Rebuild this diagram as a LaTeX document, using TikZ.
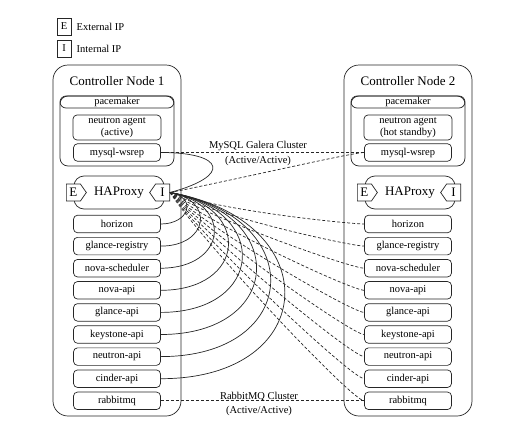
\documentclass[tikz,border=0pt]{standalone}
\usepackage{fontspec}
\setmainfont{Liberation Serif}
\usetikzlibrary{shapes.symbols}
\newcommand{\smallfnt}{\fontsize{10.5}{11.5}\selectfont}
\newcommand{\bigfnt}{\fontsize{13}{15}\selectfont}
\tikzset{
  ctrlbox/.style={draw, rounded corners=15, minimum width=128, minimum height=351},
  pacebox/.style={draw, rounded corners=8, minimum width=114, minimum height=70},
  pacehead/.style={draw, rounded corners=6, minimum width=114, minimum height=12, inner sep=0, font=\smallfnt},
  agentbox/.style={draw, rounded corners=4, minimum width=88, minimum height=25, inner sep=0, align=center, font=\smallfnt},
  svcbox/.style={draw, rounded corners=4, minimum width=87, minimum height=17.5, inner sep=0, font=\smallfnt},
  haproxy/.style={draw, rounded corners=10, minimum width=90, minimum height=33, font=\bigfnt},
  iptag/.style={draw, fill=white, signal, signal pointer angle=110, minimum width=20, minimum height=17, inner xsep=2.5, inner ysep=0, font=\bigfnt},
  legbox/.style={draw, minimum width=14, minimum height=17, inner sep=0, font=\smallfnt},
  cluster/.style={dash pattern=on 3pt off 2pt},
}
\begin{document}
\begin{tikzpicture}[x=1pt, y=1pt, line width=0.7pt, draw=black!85]
  \useasboundingbox (0,0) rectangle (515,-426);
  % legend
  \node[legbox] (legE) at (64,-26.5) {E};
  \node[anchor=west, font=\smallfnt] (legEtxt) at (73,-26.5) {External IP};
  \node[legbox] (legI) at (64,-48.5) {I};
  \node[anchor=west, font=\smallfnt] (legItxt) at (73,-48.5) {Internal IP};
  % controller nodes
  \foreach \n/\x/\state in {1/117/active, 2/408/{hot standby}} {
    \node[ctrlbox] (ctrl\n) at (\x,-240.5) {};
    \node[font=\bigfnt] (title\n) at (\x,-81) {Controller Node \n};
    \node[pacebox] (pace\n) at (\x,-131) {};
    \node[pacehead] (pacehead\n) at (\x,-102) {pacemaker};
    \node[agentbox] (agent\n) at (\x,-127.5) {neutron agent\\(\state)};
    \node[svcbox] (mysql\n) at (\x,-152.5) {mysql-wsrep};
    \node[haproxy] (ha\n) at (\x+2,-192.5) {HAProxy};
    \node[iptag, signal to=east, anchor=west] (E\n) at (\x-51,-192.5) {E};
    \node[iptag, signal to=west, anchor=east] (I\n) at (\x+53,-192.5) {I};
    \foreach \svc [count=\i] in {horizon,glance-registry,nova-scheduler,nova-api,glance-api,keystone-api,neutron-api,cinder-api,rabbitmq}
      \node[svcbox] (\svc\n) at (\x,{-224-22.1*(\i-1)}) {\svc};
  }
  % galera
  \draw (mysql1.east) to[out=0, in=15, looseness=4] (I1.east);
  \draw[cluster] (mysql1.east) -- (mysql2.west);
  \draw[cluster] (I1.east) .. controls +(11:60) and +(-12,0) .. (mysql2.west);
  \node[align=center, font=\smallfnt] (galera) at (258,-153.5) {MySQL Galera Cluster\\[3pt](Active/Active)};
  % haproxy backends
  \foreach \svc in {horizon,glance-registry,nova-scheduler,nova-api,glance-api,keystone-api,neutron-api,cinder-api}
    \draw (I1.east) to[out=-10, in=0, looseness=2.2] (\svc1.east);
  \foreach \svc/\a in {horizon/19,glance-registry/26,nova-scheduler/31,nova-api/37,glance-api/42,keystone-api/46,neutron-api/50,cinder-api/54,rabbitmq/57}
    \draw[cluster] (I1.east) .. controls +(-\a:60) and +(-12,0) .. (\svc2.west);
  % rabbit
  \draw[cluster] (rabbitmq1.east) -- (rabbitmq2.west);
  \node[align=center, font=\smallfnt] (rabbitcl) at (259,-404) {RabbitMQ Cluster\\[3pt](Active/Active)};
\end{tikzpicture}
\end{document}
